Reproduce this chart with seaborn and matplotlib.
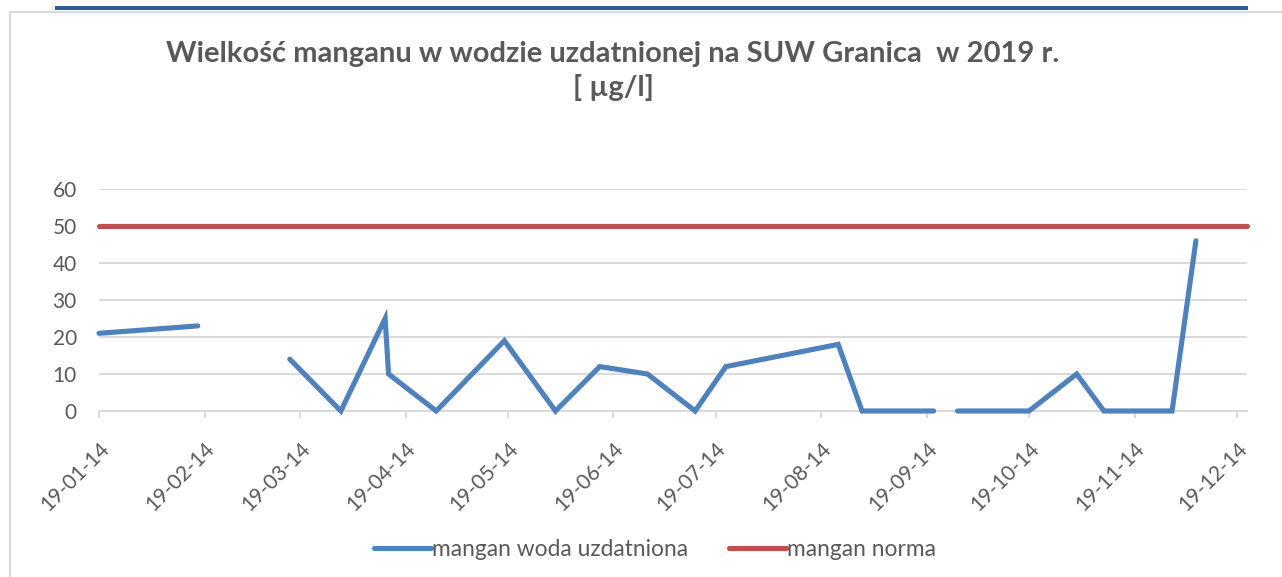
import numpy as np
import pandas as pd
import matplotlib
matplotlib.use("Agg")
import matplotlib.pyplot as plt
import seaborn as sns
from matplotlib.patches import Rectangle
from matplotlib.lines import Line2D

# ---------------- data ----------------
blue_dates = ['2019-01-14', '2019-02-12', '2019-02-26', '2019-03-11', '2019-03-26',
              '2019-04-08', '2019-04-09', '2019-04-23', '2019-05-13', '2019-05-28',
              '2019-06-10', '2019-06-24', '2019-07-08', '2019-07-17', '2019-08-19',
              '2019-08-26', '2019-09-16', '2019-09-19', '2019-09-23', '2019-10-14',
              '2019-10-28', '2019-11-05', '2019-11-25', '2019-12-02']
blue_values = [21, 23, np.nan, 14, 0,
               25, 10, 0, 19, 0,
               12, 10, 0, 12, 18,
               0, 0, np.nan, 0, 0,
               10, 0, 0, 46]
norm_dates = ['2019-01-14', '2019-12-17']
norm_values = [50, 50]
tick_dates = ['2019-01-14', '2019-02-14', '2019-03-14', '2019-04-14', '2019-05-14',
              '2019-06-14', '2019-07-14', '2019-08-14', '2019-09-14', '2019-10-14',
              '2019-11-14', '2019-12-14']
tick_labels = ['19-01-14', '19-02-14', '19-03-14', '19-04-14', '19-05-14', '19-06-14',
               '19-07-14', '19-08-14', '19-09-14', '19-10-14', '19-11-14', '19-12-14']
y_ticks = [0, 10, 20, 30, 40, 50, 60]
series_names = ['mangan woda uzdatniona', 'mangan norma']
title_text = 'Wielkość manganu w wodzie uzdatnionej na SUW Granica  w 2019 r.\n[ µg/l]'

BLUE = '#4F81BD'
RED = '#C0504D'
GRAY_TXT = '#595959'
GRID = '#D9D9D9'

sns.set_theme(style='white')
plt.rcParams['font.family'] = ['Lato', 'DejaVu Sans']

W, H = 1282, 577
fig = plt.figure(figsize=(W / 100, H / 100), dpi=100)

def fx(px):
    return px / W

def fy(py):
    return 1 - py / H

# frame and top stripe
fig.add_artist(Rectangle((fx(10), fy(600)), fx(1400), fy(12) - fy(600),
                         transform=fig.transFigure, fill=False, edgecolor=GRID, lw=1.5))
fig.add_artist(Rectangle((fx(55), fy(9.5)), fx(1248) - fx(55), fy(5.5) - fy(9.5),
                         transform=fig.transFigure, facecolor='#2E5D94', edgecolor='none'))

ax = fig.add_axes([fx(99), fy(411), fx(1247) - fx(99), fy(189) - fy(411)])
ax.set_facecolor('none')

bdf = pd.DataFrame({'date': pd.to_datetime(blue_dates), 'value': blue_values})
bdf['seg'] = bdf['value'].isna().cumsum()
bdf = bdf.dropna()
for i, (seg, sub) in enumerate(bdf.groupby('seg')):
    sns.lineplot(data=sub, x='date', y='value', ax=ax, color=BLUE, linewidth=3.7,
                 estimator=None, sort=False, solid_capstyle='round', solid_joinstyle='miter',
                 legend=False, clip_on=False, zorder=3)

ndf = pd.DataFrame({'date': pd.to_datetime(norm_dates), 'value': norm_values})
sns.lineplot(data=ndf, x='date', y='value', ax=ax, color=RED, linewidth=3.7,
             estimator=None, sort=False, solid_capstyle='round', legend=False,
             clip_on=False, zorder=3)

xt = pd.to_datetime(tick_dates)
ax.set_xlim(pd.to_datetime(norm_dates[0]), pd.to_datetime(norm_dates[-1]))
ax.set_ylim(0, 60)
ax.set_yticks(y_ticks)
ax.set_xticks(xt)
ax.set_xticklabels(tick_labels, rotation=45, ha='right', va='top', rotation_mode='anchor')
ax.set_xlabel('')
ax.set_ylabel('')

ax.yaxis.grid(True, color=GRID, lw=1.4)
ax.xaxis.grid(False)
ax.set_axisbelow(True)
for s in ['left', 'right', 'top']:
    ax.spines[s].set_visible(False)
ax.spines['bottom'].set_color(GRID)
ax.spines['bottom'].set_linewidth(1.4)
ax.tick_params(axis='x', colors=GRID, length=5, width=1.4, direction='out',
               pad=15, labelcolor=GRAY_TXT, labelsize=15, bottom=True)
ax.tick_params(axis='y', length=0, pad=16, labelcolor=GRAY_TXT, labelsize=15)

fig.text(fx(613), fy(71), title_text, ha='center', va='center', ma='center',
         fontsize=21, fontweight='bold', color=GRAY_TXT, linespacing=1.3)

handles = [Line2D([], [], color=BLUE, lw=3.7, solid_capstyle='round'),
           Line2D([], [], color=RED, lw=3.7, solid_capstyle='round')]
leg = fig.legend(handles, series_names, loc='center', bbox_to_anchor=(fx(655), fy(549)),
                 ncol=2, frameon=False, fontsize=16.4, handlelength=2.5, handletextpad=0.05,
                 columnspacing=1.8)
for t in leg.get_texts():
    t.set_color(GRAY_TXT)

fig.savefig('out.png', dpi=100)
